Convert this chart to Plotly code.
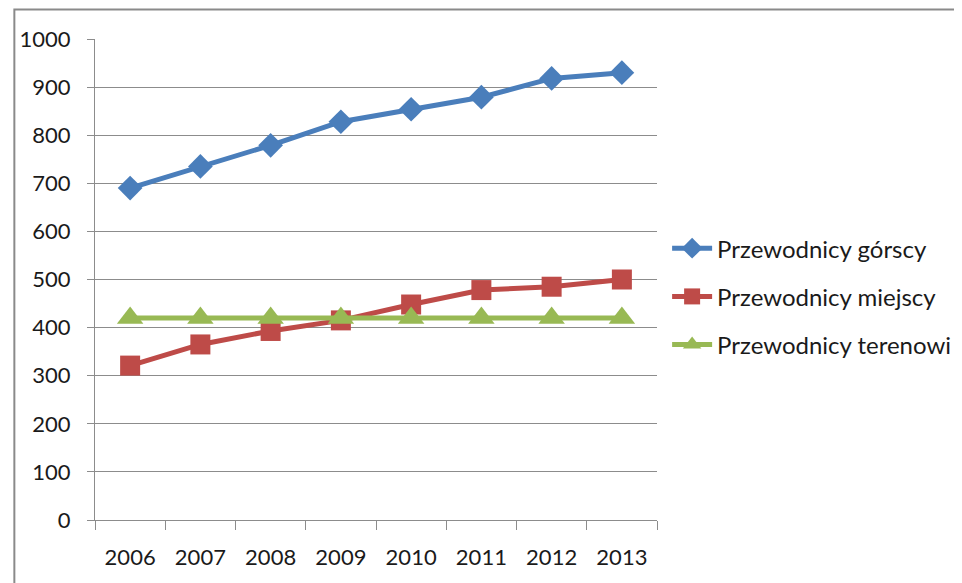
import plotly.graph_objects as go

years = ["2006", "2007", "2008", "2009", "2010", "2011", "2012", "2013"]
gorscy = [690, 735, 779, 828, 854, 879, 918, 930]
miejscy = [321, 365, 393, 415, 448, 478, 485, 500]
terenowi = [420, 420, 420, 420, 420, 420, 420, 420]

names = ["Przewodnicy górscy", "Przewodnicy miejscy", "Przewodnicy terenowi"]
colors = ["#4A7EBB", "#BE4B48", "#98B954"]
symbols = ["diamond", "square", "triangle-up"]
sizes = [19, 20, 23]
series = [gorscy, miejscy, terenowi]

FONT = "Lato"

fig = go.Figure()
for i, (nm, vals) in enumerate(zip(names, series)):
    fig.add_trace(go.Scatter(
        x=years, y=vals, name=nm, mode="lines+markers",
        line=dict(color=colors[i], width=5),
        marker=dict(symbol=symbols[i], size=sizes[i], color=colors[i]),
        legendgroup=f"g{i}",
    ))

fig.update_layout(
    width=962, height=583,
    margin=dict(l=84, r=313, t=31, b=71),
    paper_bgcolor="white", plot_bgcolor="white",
    font=dict(family=FONT, size=22, color="#1a1a1a"),
    showlegend=True,
    legend=dict(
        x=1.018, xanchor="left", y=0.611, yanchor="top",
        font=dict(family=FONT, size=24, color="#1a1a1a"),
        tracegroupgap=14, bgcolor="rgba(0,0,0,0)",
        itemwidth=40,
    ),
    xaxis=dict(
        type="category", range=[-0.5, 7.5],
        showline=True, linecolor="#8c8c8c", linewidth=1,
        ticks="outside", tickson="boundaries", ticklen=9, tickcolor="#8c8c8c",
        showgrid=False, ticklabelstandoff=18,
        tickfont=dict(family=FONT, size=22, color="#1a1a1a"),
    ),
    yaxis=dict(
        range=[0, 1000], dtick=100, tick0=0,
        showline=True, linecolor="#8c8c8c", linewidth=1,
        ticks="outside", ticklen=7, tickcolor="#8c8c8c",
        showgrid=True, gridcolor="#8c8c8c", gridwidth=1,
        zeroline=False, ticklabelstandoff=12,
        tickfont=dict(family=FONT, size=22, color="#1a1a1a"),
    ),
    shapes=[dict(
        type="rect", xref="paper", yref="paper",
        x0=-0.1435, x1=1.7, y0=-0.3, y1=1.0613,
        line=dict(color="#8a8a8a", width=2), fillcolor="rgba(0,0,0,0)",
        layer="below",
    )],
)

fig.write_html("out.html")
